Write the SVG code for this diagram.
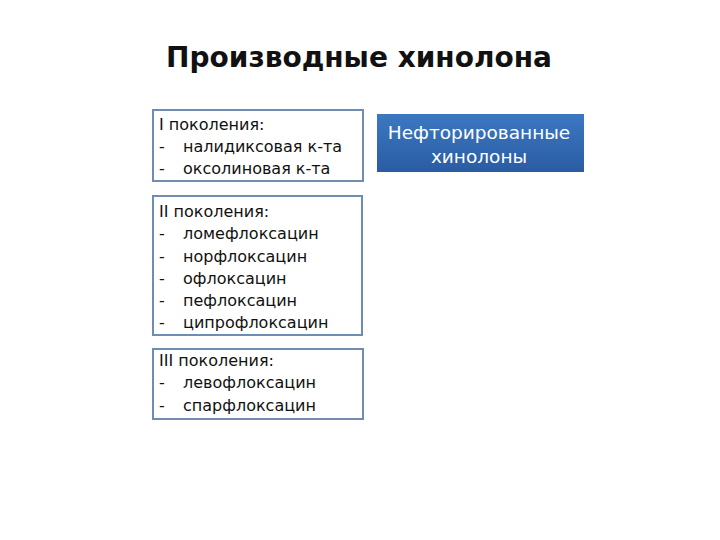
<svg xmlns="http://www.w3.org/2000/svg" width="720" height="540" viewBox="0 0 720 540">
<defs>
<linearGradient id="blueGrad" x1="0" y1="0" x2="0" y2="1">
<stop offset="0" stop-color="#3c78c2"/>
<stop offset="1" stop-color="#2a5ca3"/>
</linearGradient>
<style>
.box{fill:#ffffff;stroke:#6f8db3;stroke-width:2}
.t{font-family:"DejaVu Sans",sans-serif;font-size:16px;fill:#111111}
.title{font-family:"DejaVu Sans",sans-serif;font-size:28px;font-weight:bold;fill:#111111}
.w{font-family:"DejaVu Sans",sans-serif;font-size:18.5px;fill:#ffffff}
</style>
</defs>
<rect width="720" height="540" fill="#ffffff"/>
<text class="title" x="359" y="67" text-anchor="middle">Производные хинолона</text>
<g id="gen1">
<rect class="box" x="153" y="110" width="210" height="71"/>
<text class="t" x="159" y="130">I поколения:</text>
<text class="t" x="159" y="152">-</text><text class="t" x="183" y="152">налидиксовая к-та</text>
<text class="t" x="159" y="174">-</text><text class="t" x="183" y="174">оксолиновая к-та</text>
</g>
<g id="gen2">
<rect class="box" x="153" y="196" width="209" height="139"/>
<text class="t" x="159" y="217">II поколения:</text>
<text class="t" x="159" y="239">-</text><text class="t" x="183" y="239">ломефлоксацин</text>
<text class="t" x="159" y="262">-</text><text class="t" x="183" y="262">норфлоксацин</text>
<text class="t" x="159" y="284">-</text><text class="t" x="183" y="284">офлоксацин</text>
<text class="t" x="159" y="306">-</text><text class="t" x="183" y="306">пефлоксацин</text>
<text class="t" x="159" y="328">-</text><text class="t" x="183" y="328">ципрофлоксацин</text>
</g>
<g id="gen3">
<rect class="box" x="153" y="349" width="210" height="70"/>
<text class="t" x="159" y="366">III поколения:</text>
<text class="t" x="159" y="388">-</text><text class="t" x="183" y="388">левофлоксацин</text>
<text class="t" x="159" y="411">-</text><text class="t" x="183" y="411">спарфлоксацин</text>
</g>
<g id="nonfluor">
<rect x="377" y="114" width="207" height="58" fill="url(#blueGrad)"/>
<text class="w" x="479" y="139" text-anchor="middle">Нефторированные</text>
<text class="w" x="479" y="163" text-anchor="middle">хинолоны</text>
</g>
<g id="connectors"/>
</svg>
